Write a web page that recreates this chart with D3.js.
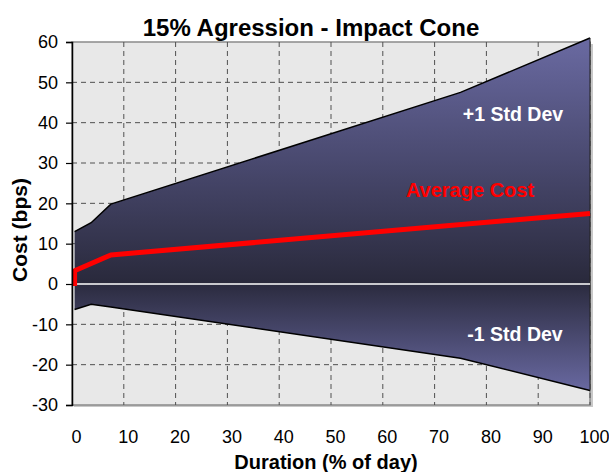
<!DOCTYPE html>
<html>
<head>
<meta charset="utf-8">
<script src="https://cdn.jsdelivr.net/npm/d3@7"></script>
<style>
  html, body { margin: 0; padding: 0; background: #ffffff; }
  svg { display: block; font-family: "Liberation Sans", Arial, sans-serif; }
</style>
</head>
<body>
<svg id="chart" width="609" height="472"></svg>
<script>
// Duration (% of day) at each sample of the cone
const duration = [0.5, 3.7, 7.5, 75, 100];
// Cost bands (bps)
const upperBand = [13, 15.2, 19.8, 47.5, 61];
const lowerBand = [-6.3, -5.0, -5.7, -18.4, -26.4];
// Average cost line
const avgDuration = [0.5, 0.5, 7.5, 100];
const avgCost = [-0.5, 3.3, 7.2, 17.5];

const xTicks = [0, 10, 20, 30, 40, 50, 60, 70, 80, 90, 100];
const yTicks = [-30, -20, -10, 0, 10, 20, 30, 40, 50, 60];

const svg = d3.select("#chart");
const plotLeft = 72, plotRight = 590, plotTop = 42, plotBottom = 405;

const x = d3.scaleLinear().domain([0, 100]).range([plotLeft, plotRight]);
const y = d3.scaleLinear().domain([-30, 60]).range([plotBottom, plotTop]);

// gradients for the two halves of the cone
const defs = svg.append("defs");
const gUp = defs.append("linearGradient").attr("id", "gradUp")
  .attr("gradientUnits", "userSpaceOnUse")
  .attr("x1", 0).attr("x2", 0).attr("y1", y(61)).attr("y2", y(0));
gUp.append("stop").attr("offset", "0%").attr("stop-color", "#6a6aa2");
gUp.append("stop").attr("offset", "55%").attr("stop-color", "#46466a");
gUp.append("stop").attr("offset", "100%").attr("stop-color", "#29293b");
const gDn = defs.append("linearGradient").attr("id", "gradDn")
  .attr("gradientUnits", "userSpaceOnUse")
  .attr("x1", 0).attr("x2", 0).attr("y1", y(0)).attr("y2", y(-27));
gDn.append("stop").attr("offset", "0%").attr("stop-color", "#2b2b3f");
gDn.append("stop").attr("offset", "100%").attr("stop-color", "#6a6aa3");

// plot background with a soft frame on top, right and bottom
svg.append("rect").attr("x", plotLeft + 2).attr("y", plotTop + 2)
  .attr("width", plotRight - plotLeft + 1).attr("height", plotBottom - plotTop)
  .attr("fill", "#c8c8c8");
svg.append("rect").attr("x", plotLeft).attr("y", plotTop)
  .attr("width", plotRight - plotLeft).attr("height", plotBottom - plotTop)
  .attr("fill", "#e8e8e8").attr("stroke", "#8a8a8a").attr("stroke-width", 1.5);

// dashed grid
const grid = svg.append("g").attr("stroke", "#505050").attr("stroke-width", 1)
  .attr("stroke-dasharray", "5,4");
grid.selectAll("line.h").data(yTicks.filter(d => d > -30 && d < 60)).join("line")
  .attr("class", "h")
  .attr("x1", plotLeft).attr("x2", plotRight)
  .attr("y1", d => y(d)).attr("y2", d => y(d));
grid.selectAll("line.v").data(xTicks.filter(d => d > 0)).join("line")
  .attr("class", "v")
  .attr("x1", d => x(d)).attr("x2", d => x(d))
  .attr("y1", plotTop).attr("y2", plotBottom);

// cone
const pts = duration.map((d, i) => ({ d, hi: upperBand[i], lo: lowerBand[i] }));
const areaUp = d3.area().x(p => x(p.d)).y0(y(0)).y1(p => y(p.hi));
const areaDn = d3.area().x(p => x(p.d)).y0(y(0)).y1(p => y(p.lo));
svg.append("path").datum(pts).attr("d", areaUp).attr("fill", "url(#gradUp)");
svg.append("path").datum(pts).attr("d", areaDn).attr("fill", "url(#gradDn)");
const edgeHi = d3.line().x(p => x(p.d)).y(p => y(p.hi));
const edgeLo = d3.line().x(p => x(p.d)).y(p => y(p.lo));
svg.append("path").datum(pts).attr("d", edgeHi).attr("fill", "none")
  .attr("stroke", "#000").attr("stroke-width", 1.5);
svg.append("path").datum(pts).attr("d", edgeLo).attr("fill", "none")
  .attr("stroke", "#000").attr("stroke-width", 1.5);
const last = pts[pts.length - 1];
svg.append("line").attr("x1", x(last.d)).attr("x2", x(last.d))
  .attr("y1", y(last.hi)).attr("y2", y(last.lo))
  .attr("stroke", "#222").attr("stroke-width", 1);

// zero line
svg.append("line").attr("x1", plotLeft).attr("x2", plotRight)
  .attr("y1", y(0)).attr("y2", y(0))
  .attr("stroke", "#ffffff").attr("stroke-width", 1.5);

// average cost line
const avgPts = avgDuration.map((d, i) => ({ d, v: avgCost[i] }));
svg.append("path").datum(avgPts)
  .attr("d", d3.line().x(p => x(p.d)).y(p => y(p.v)))
  .attr("fill", "none").attr("stroke", "#ff0000").attr("stroke-width", 5)
  .attr("stroke-linejoin", "round");

// y axis
const yAxis = d3.axisLeft(y).tickValues(yTicks).tickSize(6).tickPadding(8).tickFormat(d => String(d));
const ya = svg.append("g").attr("transform", `translate(${plotLeft},0)`).call(yAxis);
ya.select(".domain").attr("stroke", "#000").attr("stroke-width", 1.5);
ya.selectAll(".tick line").attr("stroke", "#000").attr("stroke-width", 1.2);
ya.selectAll(".tick text").attr("font-size", 18).attr("fill", "#000")
  .attr("font-family", "Liberation Sans, Arial, sans-serif");

// x axis labels
const xAxis = d3.axisBottom(x).tickValues(xTicks).tickSize(0).tickPadding(25).tickFormat(d => String(d));
const xa = svg.append("g").attr("transform", `translate(4,${plotBottom})`).call(xAxis);
xa.select(".domain").remove();
xa.selectAll(".tick text").attr("font-size", 18).attr("fill", "#000")
  .attr("font-family", "Liberation Sans, Arial, sans-serif");

// titles
svg.append("text").attr("x", 311).attr("y", 36).attr("text-anchor", "middle")
  .attr("font-size", 24).attr("font-weight", "bold").text("15% Agression - Impact Cone");
svg.append("text").attr("x", 326).attr("y", 469).attr("text-anchor", "middle")
  .attr("font-size", 20).attr("font-weight", "bold").text("Duration (% of day)");
svg.append("text").attr("transform", "translate(27,230) rotate(-90)").attr("text-anchor", "middle")
  .attr("font-size", 21).attr("font-weight", "bold").text("Cost (bps)");

// band labels
svg.append("text").attr("x", 513).attr("y", 121).attr("text-anchor", "middle")
  .attr("font-size", 19.5).attr("font-weight", "bold").attr("fill", "#ffffff").text("+1 Std Dev");
svg.append("text").attr("x", 515).attr("y", 341).attr("text-anchor", "middle")
  .attr("font-size", 19.5).attr("font-weight", "bold").attr("fill", "#ffffff").text("-1 Std Dev");
svg.append("text").attr("x", 470).attr("y", 197).attr("text-anchor", "middle")
  .attr("font-size", 20).attr("font-weight", "bold").attr("fill", "#ff0000").text("Average Cost");
</script>
</body>
</html>
